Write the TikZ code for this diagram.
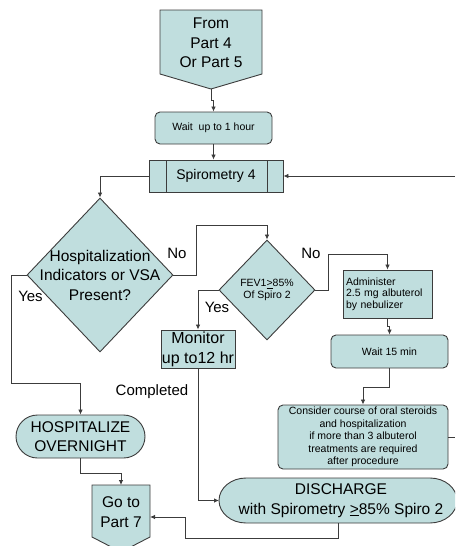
\documentclass[tikz,border=0pt]{standalone}
\usepackage{fontspec}
\setmainfont{Liberation Sans}
\usetikzlibrary{shapes.geometric,arrows.meta}
\definecolor{fillc}{RGB}{192,222,222}
\definecolor{linec}{RGB}{60,60,60}
\begin{document}
\begin{tikzpicture}[x=1pt,y=-1pt,
  box/.style={draw=linec,fill=fillc,line width=0.9pt,inner sep=0pt,align=center},
  rbox/.style={box,rounded corners=5pt},
  conn/.style={draw=linec,line width=0.8pt,-{Latex[length=5pt,width=4.5pt]}},
  wire/.style={draw=linec,line width=0.8pt},
  big/.style={font=\fontsize{15.5}{19.5}\selectfont},
  mid/.style={font=\fontsize{14}{17}\selectfont},
  small/.style={font=\fontsize{10.5}{11.6}\selectfont},
  lbl/.style={inner sep=0pt,font=\fontsize{15}{18}\selectfont},
  ghost/.style={inner sep=0pt,outer sep=0pt}]
\useasboundingbox (0,0) rectangle (455,546);
\clip (0,0) rectangle (455,546);

% From Part 4 / Part 5 (off-page connector)
\draw[box] (160,10) -- (262,10) -- (262,74) -- (211,89) -- (160,74) -- cycle;
\node[ghost,big,align=center] (from) at (211,43) {From\\Part 4\\Or Part 5};
\coordinate (fromtip) at (211,89);

\node[rbox,small,minimum width=117pt,minimum height=32pt] (wait1) at (213.5,128) {Wait\ \ up to 1 hour};

\node[box,mid,minimum width=134pt,minimum height=32pt] (spiro) at (216,176) {Spirometry 4};
\draw[linec,line width=0.9pt] (166,160) -- (166,192) (267,160) -- (267,192);

% Hospitalization diamond
\node[diamond,draw=linec,fill=fillc,line width=0.9pt,inner sep=0pt,minimum width=146pt,minimum height=154pt] (hosp) at (100,275) {};
\node[ghost,big,align=center] at (hosp.center) {Hospitalization\\Indicators or VSA\\Present?};

% FEV diamond
\node[diamond,draw=linec,fill=fillc,line width=0.9pt,inner sep=0pt,minimum width=96pt,minimum height=100pt] (fev) at (267,290) {};
\node[ghost,small,align=center] at (fev.center) {FEV1\underline{>}85\%\\Of Spiro 2};

\node[box,small,text width=83pt,align=left,inner sep=3pt,minimum height=48pt] (admin) at (387.5,294) {Administer\\2.5 mg albuterol\\by nebulizer};

\node[rbox,small,minimum width=117pt,minimum height=33pt] (wait15) at (389.5,351.5) {Wait 15 min};

\node[rbox,small,minimum width=170pt,minimum height=64pt,font=\fontsize{10.5}{12.6}\selectfont] (consider) at (363,437) {Consider course of oral steroids\\and hospitalization\\if more than 3 albuterol\\treatments are required\\after procedure};

\node[box,big,font=\fontsize{16}{20}\selectfont,minimum width=74pt,minimum height=38pt] (monitor) at (198,349) {Monitor\\up to12 hr};

\node[box,big,rounded corners=21.5pt,minimum width=129pt,minimum height=43pt] (hzn) at (80.5,436.5) {HOSPITALIZE\\OVERNIGHT};

% Go to Part 7 (off-page connector)
\draw[box] (92,485) -- (150,485) -- (150,537) -- (121,552) -- (92,537) -- cycle;
\node[ghost,minimum width=58pt,minimum height=52pt] (goto) at (121,511) {};
\node[ghost,big,align=center] at (121,512) {Go to\\Part 7};

% DISCHARGE terminator
\draw[box] (246,478) -- (430,478) arc[start angle=-90,end angle=90,x radius=27,y radius=22.5]
  -- (246,523) arc[start angle=90,end angle=270,x radius=27,y radius=22.5] -- cycle;
\node[ghost,minimum width=238pt,minimum height=45pt] (dis) at (338,500.5) {};
\node[ghost,align=center,font=\fontsize{15.5}{19.5}\selectfont] at (341,500.5) {DISCHARGE\\with Spirometry \underline{>}85\% Spiro 2};

% edge coordinates
\coordinate (re1) at (455,176);
\coordinate (re2) at (455,437);

% connectors
\draw[conn] (fromtip) -- ++(0,11) -| (wait1.north);
\draw[conn] (wait1.south) -- (wait1.south |- spiro.north);
\draw[conn] (re1) -- (spiro.east);
\draw[conn] (spiro.west) -| (hosp.north);
\draw[conn] (hosp.east) -- ++(23,0) -- ++(0,-50) -| (fev.north);
\draw[conn] (fev.east) -- ++(13,0) -- ++(0,-36) -| (admin.north);
\draw[conn] (admin.south) -- ++(0,8) -| (wait15.north);
\draw[conn] (wait15.south) -- ++(0,19) -| (consider.north);
\draw[wire] (consider.east) -- (re2);
\draw[conn] (hosp.west) -- ++(-15,0) -- ++(0,108) -| (hzn.north);
\draw[conn] (fev.west) -| (monitor.north);
\draw[conn] (monitor.south) |- (dis.west);
\draw[conn] (hzn.south) -- ++(0,15) -| (goto.north);
\draw[conn] (dis.south) -- ++(0,15) -| ([xshift=35pt,yshift=-6pt]goto.east) -- ([yshift=-6pt]goto.east);

% labels
\node[lbl] (no1) at (177,253) {No};
\node[lbl] (yes1) at (30.5,296) {Yes};
\node[lbl] (no2) at (311,253) {No};
\node[lbl] (yes2) at (217,307) {Yes};
\node[lbl] (done) at (152,392) {Completed};
\end{tikzpicture}
\end{document}
